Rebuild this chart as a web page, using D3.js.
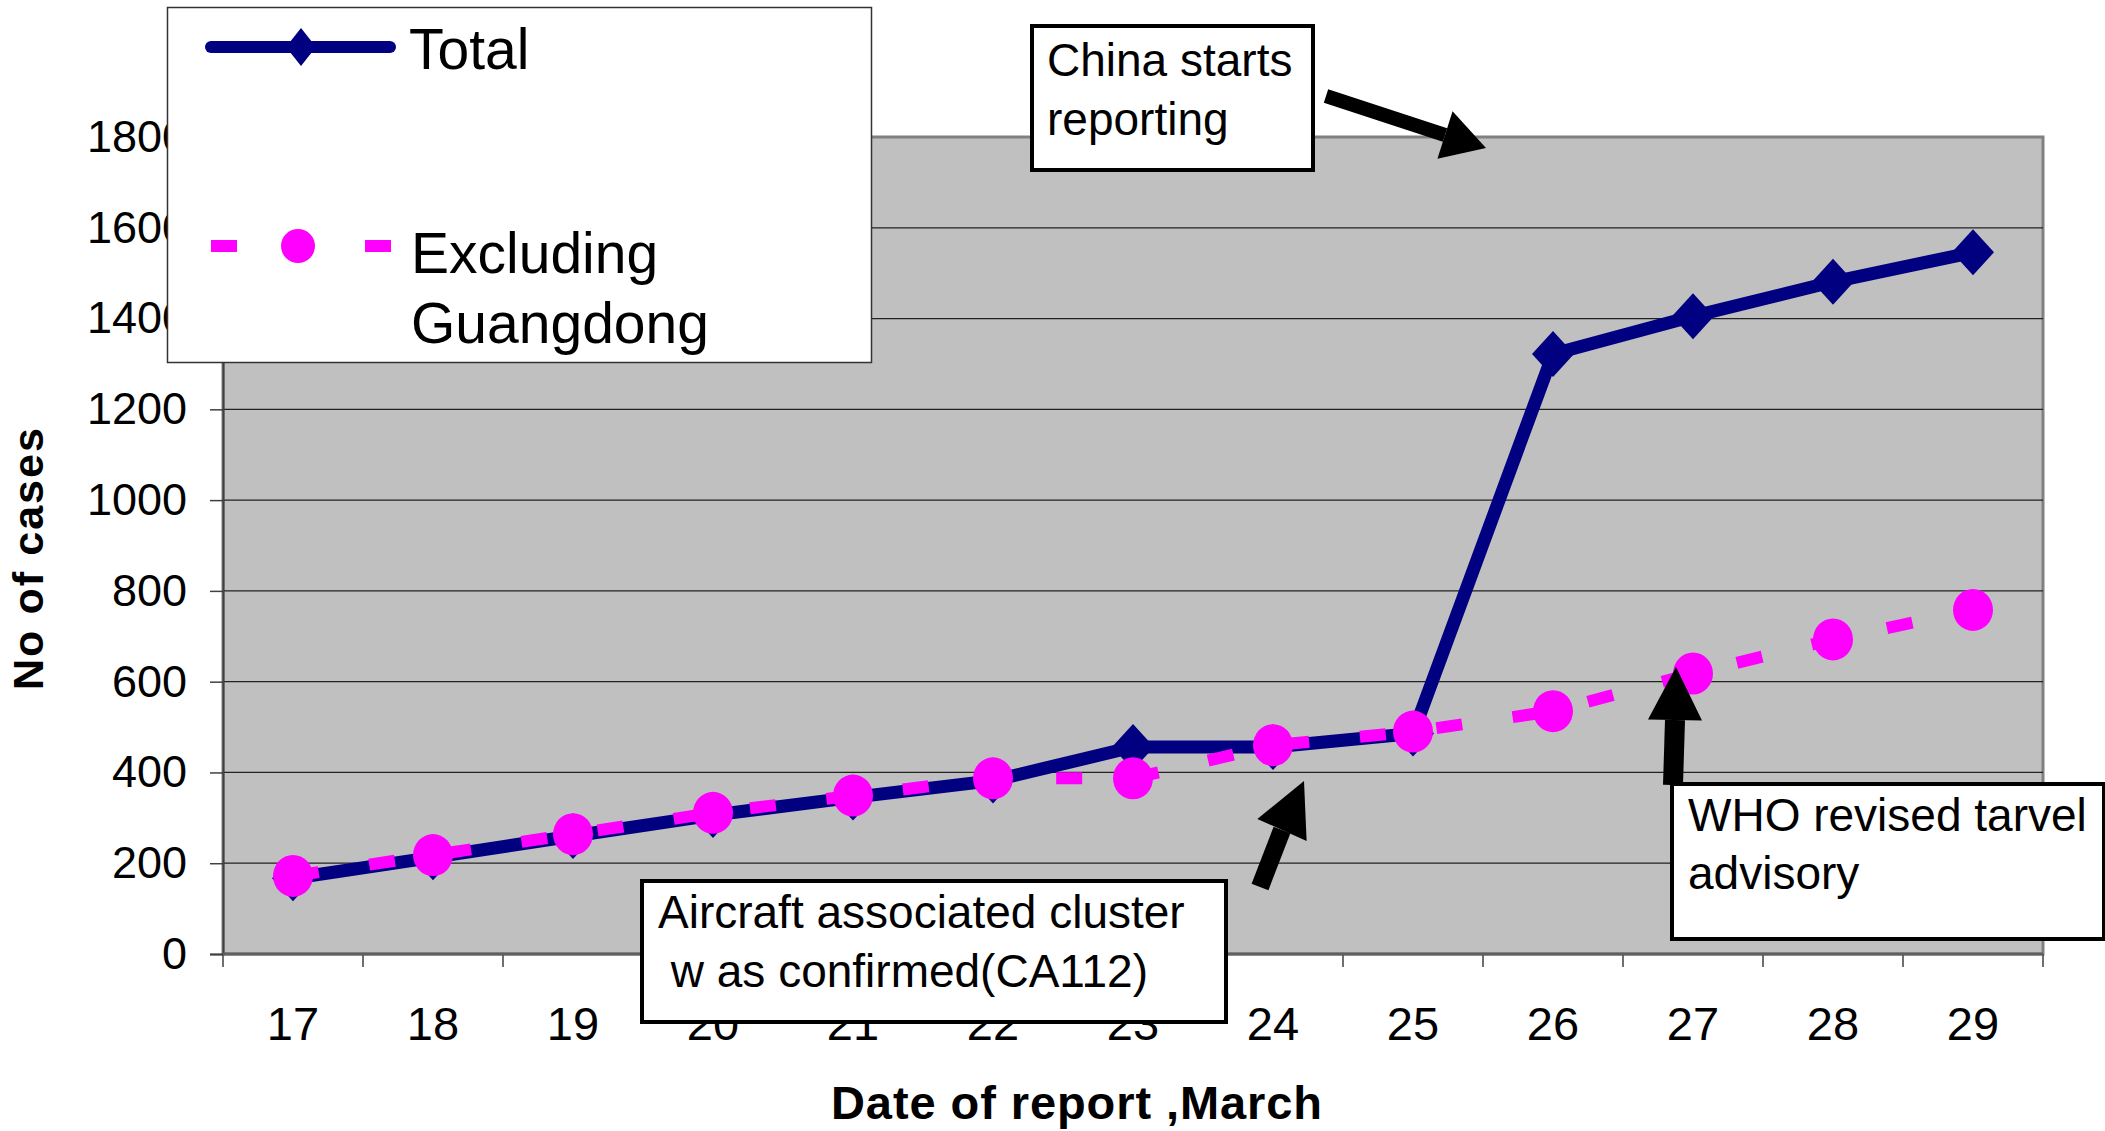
<!DOCTYPE html>
<html>
<head>
<meta charset="utf-8">
<script src="https://cdn.jsdelivr.net/npm/d3@7"></script>
<style>
  html, body { margin: 0; padding: 0; background: #ffffff; }
  svg { display: block; }
  text { font-family: "Liberation Sans", Arial, sans-serif; fill: #000; }
</style>
</head>
<body>
<svg id="chart" width="2105" height="1131"></svg>
<script>
// ---- data ----
const categories = ["17", "18", "19", "20", "21", "22", "23", "24", "25", "26", "27", "28", "29"];
const totalCases = [167, 213, 260, 306, 345, 382, 456, 456, 486, 1322, 1405, 1481, 1546];
const exclGuangdong = [172, 218, 264, 311, 349, 387, 387, 460, 490, 535, 618, 693, 758];
const yTicks = [0, 200, 400, 600, 800, 1000, 1200, 1400, 1600, 1800];
const seriesNames = ["Total", "Excluding", "Guangdong"];
const xTitle = "Date of report ,March";
const yTitle = "No of cases";
const notes = {
  china: ["China starts", "reporting"],
  aircraft: ["Aircraft associated cluster", " w as confirmed(CA112)"],
  who: ["WHO revised tarvel", "advisory"]
};

const NAVY = "#000080", MAG = "#FF00FF";
const svg = d3.select("#chart");

const plot = { left: 223, right: 2043, top: 137, bottom: 954 };
const x = d3.scaleBand().domain(categories).range([plot.left, plot.right]).padding(0);
const y = d3.scaleLinear().domain([0, 1800]).range([plot.bottom, plot.top]);
const cx = c => x(c) + x.bandwidth() / 2;

// plot background
svg.append("rect")
  .attr("x", plot.left).attr("y", plot.top)
  .attr("width", plot.right - plot.left).attr("height", plot.bottom - plot.top)
  .attr("fill", "#C0C0C0").attr("stroke", "#808080").attr("stroke-width", 3);

// gridlines
svg.append("g").selectAll("line")
  .data(yTicks.filter(v => v > 0 && v < 1800))
  .join("line")
  .attr("x1", plot.left).attr("x2", plot.right)
  .attr("y1", d => y(d)).attr("y2", d => y(d))
  .attr("stroke", "#222").attr("stroke-width", 1.3);

// y axis
const yAxis = svg.append("g").attr("transform", `translate(${plot.left},0)`)
  .call(d3.axisLeft(y).tickValues(yTicks).tickSize(13).tickPadding(23).tickFormat(d3.format("d")));
yAxis.select(".domain").attr("stroke", "#404040").attr("stroke-width", 2);
yAxis.selectAll(".tick line").attr("stroke", "#404040").attr("stroke-width", 1.5);
yAxis.selectAll(".tick text").attr("font-size", 45).attr("font-family", "Liberation Sans, Arial, sans-serif").attr("fill", "#000");

// x axis labels
const xAxis = svg.append("g").attr("transform", `translate(0,${plot.bottom})`)
  .call(d3.axisBottom(x).tickSize(0).tickPadding(0));
xAxis.select(".domain").remove();
xAxis.selectAll(".tick text").attr("font-size", 47).attr("y", 86).attr("dy", 0)
  .attr("font-family", "Liberation Sans, Arial, sans-serif").attr("fill", "#000");
// boundary ticks
const bounds = categories.map(c => x(c)).concat([x(categories[categories.length - 1]) + x.bandwidth()]);
svg.append("g").selectAll("line").data(bounds).join("line")
  .attr("x1", d => d).attr("x2", d => d)
  .attr("y1", plot.bottom).attr("y2", plot.bottom + 13)
  .attr("stroke", "#404040").attr("stroke-width", 1.5);
svg.append("line").attr("x1", plot.left).attr("x2", plot.right)
  .attr("y1", plot.bottom).attr("y2", plot.bottom)
  .attr("stroke", "#606060").attr("stroke-width", 3);

// axis titles
svg.append("text").attr("x", 831).attr("y", 1119)
  .attr("font-size", 47).attr("font-weight", "bold")
  .attr("textLength", 491).attr("lengthAdjust", "spacing")
  .text(xTitle);
svg.append("text")
  .attr("transform", "translate(43,559) rotate(-90)")
  .attr("text-anchor", "middle")
  .attr("font-size", 43).attr("font-weight", "bold")
  .attr("textLength", 262).attr("lengthAdjust", "spacing")
  .text(yTitle);

// Total series
const totalData = categories.map((c, i) => ({ c, v: totalCases[i] }));
const exclData = categories.map((c, i) => ({ c, v: exclGuangdong[i] }));
const line = d3.line().x(d => cx(d.c)).y(d => y(d.v));

svg.append("path").datum(totalData).attr("d", line)
  .attr("fill", "none").attr("stroke", NAVY).attr("stroke-width", 13)
  .attr("stroke-linejoin", "round").attr("stroke-linecap", "round");
const diamond = (hw, hh) => `M0,${-hh}L${hw},0L0,${hh}L${-hw},0Z`;
svg.append("g").selectAll("path").data(totalData).join("path")
  .attr("transform", d => `translate(${cx(d.c)},${y(d.v)})`)
  .attr("d", diamond(21, 23)).attr("fill", NAVY);

// Excluding Guangdong series
svg.append("path").datum(exclData).attr("d", line)
  .attr("fill", "none").attr("stroke", MAG).attr("stroke-width", 12)
  .attr("stroke-dasharray", "26,51").attr("stroke-linecap", "butt");
svg.append("g").selectAll("ellipse").data(exclData).join("ellipse")
  .attr("cx", d => cx(d.c)).attr("cy", d => y(d.v))
  .attr("rx", 20).attr("ry", 21).attr("fill", MAG);

// legend
const lg = svg.append("g");
lg.append("rect").attr("x", 167.5).attr("y", 7.5).attr("width", 704).attr("height", 355)
  .attr("fill", "#fff").attr("stroke", "#333").attr("stroke-width", 1.5);
lg.append("line").attr("x1", 211).attr("x2", 390).attr("y1", 47).attr("y2", 47)
  .attr("stroke", NAVY).attr("stroke-width", 12).attr("stroke-linecap", "round");
lg.append("path").attr("transform", "translate(301,47)").attr("d", diamond(15, 19)).attr("fill", NAVY);
lg.append("text").attr("x", 409).attr("y", 69).attr("font-size", 57).text(seriesNames[0]);
lg.append("line").attr("x1", 211).attr("x2", 391).attr("y1", 246).attr("y2", 246)
  .attr("stroke", MAG).attr("stroke-width", 12).attr("stroke-dasharray", "26,51");
lg.append("ellipse").attr("cx", 298).attr("cy", 246).attr("rx", 17).attr("ry", 17).attr("fill", MAG);
lg.append("text").attr("x", 411).attr("y", 273).attr("font-size", 57).text(seriesNames[1]);
lg.append("text").attr("x", 411).attr("y", 343).attr("font-size", 57).text(seriesNames[2]);

// annotation boxes
function noteBox(bx, by, bw, bh, tx, lines, baselines) {
  const g = svg.append("g");
  g.append("rect").attr("x", bx).attr("y", by).attr("width", bw).attr("height", bh)
    .attr("fill", "#fff").attr("stroke", "#000").attr("stroke-width", 4);
  lines.forEach((t, i) => {
    g.append("text").attr("x", tx).attr("y", baselines[i])
      .attr("font-size", 46).attr("xml:space", "preserve").text(t);
  });
}
function arrow(x0, y0, bx, by, tx, ty, shaftW, headHalf) {
  const dx = tx - bx, dy = ty - by, len = Math.hypot(dx, dy);
  const nx = -dy / len, ny = dx / len;
  svg.append("line").attr("x1", x0).attr("y1", y0).attr("x2", bx).attr("y2", by)
    .attr("stroke", "#000").attr("stroke-width", shaftW);
  svg.append("path")
    .attr("d", `M${bx + nx * headHalf},${by + ny * headHalf}L${tx},${ty}L${bx - nx * headHalf},${by - ny * headHalf}Z`)
    .attr("fill", "#000");
}

noteBox(1032, 26, 281, 144, 1047, notes.china, [76, 135]);
arrow(1326, 96, 1445, 135, 1486, 148, 14, 25);

noteBox(642, 881, 584, 141, 658, notes.aircraft, [928, 987]);
arrow(1260, 887, 1282, 830, 1304, 781, 18, 27);

noteBox(1672, 784, 432, 155, 1688, notes.who, [831, 889]);
arrow(1673, 785, 1675, 720, 1676, 667, 20, 27);
</script>
</body>
</html>
